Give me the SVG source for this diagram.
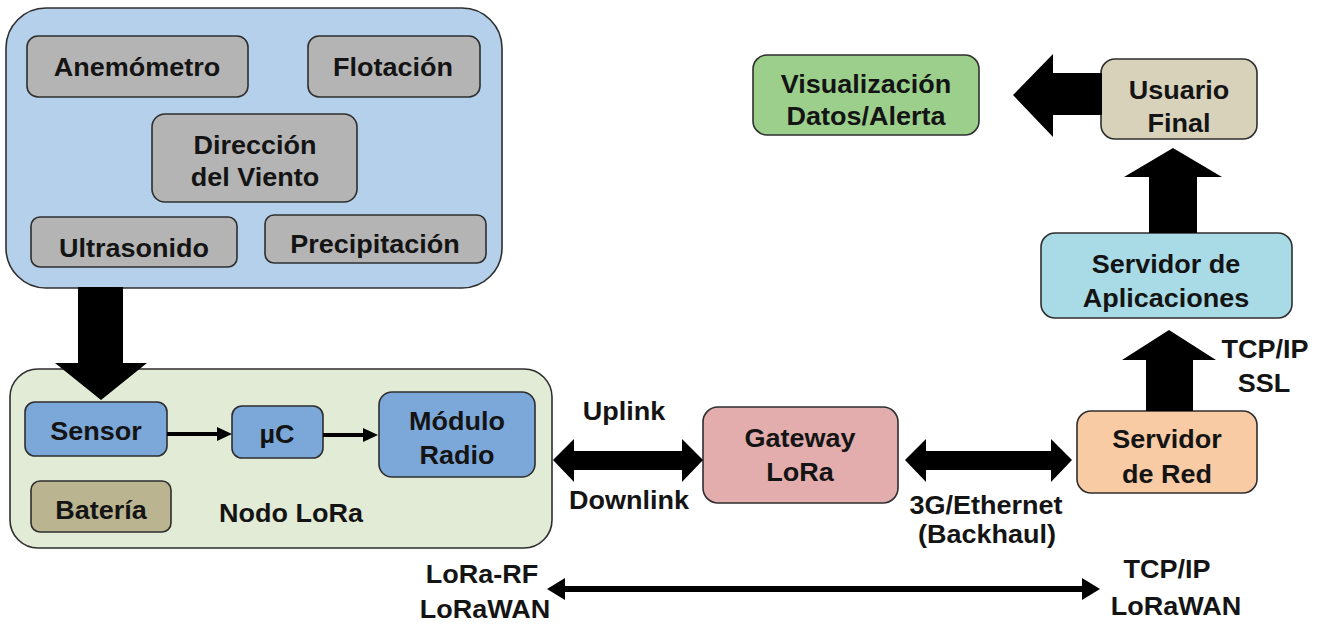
<svg xmlns="http://www.w3.org/2000/svg" width="1323" height="632" viewBox="0 0 1323 632">
<style>
.box{stroke:#2e2e2e;stroke-width:1.6}
.t{font-family:"Liberation Sans",Arial,Helvetica,sans-serif;font-weight:bold;font-size:25px;fill:#141414;text-anchor:middle}
.arr{fill:#000}
</style>
<rect width="1323" height="632" fill="#ffffff"/>
<g id="sensores">
<rect class="box" x="6" y="8" width="496" height="280" rx="40" fill="#b5d0ea"/>
</g>
<g id="anemometro">
<rect class="box" x="27" y="36" width="221" height="61" rx="11" fill="#b4b4b4"/>
<text class="t" transform="translate(137 0) scale(1.08 1)" y="76">Anemómetro</text>
</g>
<g id="flotacion">
<rect class="box" x="308" y="36" width="172" height="61" rx="11" fill="#b4b4b4"/>
<text class="t" transform="translate(393 0) scale(1.08 1)" y="76">Flotación</text>
</g>
<g id="direccion">
<rect class="box" x="152" y="114" width="205" height="88" rx="13" fill="#b4b4b4"/>
<text class="t" transform="translate(255 0) scale(1.08 1)" y="154">Dirección</text>
<text class="t" transform="translate(255 0) scale(1.08 1)" y="186">del Viento</text>
</g>
<g id="ultrasonido">
<rect class="box" x="31" y="217" width="206" height="50" rx="9" fill="#b4b4b4"/>
<text class="t" transform="translate(134 0) scale(1.08 1)" y="257">Ultrasonido</text>
</g>
<g id="precipitacion">
<rect class="box" x="265" y="215" width="221" height="48" rx="9" fill="#b4b4b4"/>
<text class="t" transform="translate(375 0) scale(1.08 1)" y="253">Precipitación</text>
</g>
<g id="nodo-lora">
<rect class="box" x="10" y="369" width="542" height="179" rx="28" fill="#e2ebd6"/>
<text class="t" transform="translate(291 0) scale(1.08 1)" y="522">Nodo LoRa</text>
</g>
<g id="sensor">
<rect class="box" x="25" y="402" width="142" height="54" rx="10" fill="#7ba8d9"/>
<text class="t" transform="translate(96 0) scale(1.08 1)" y="440">Sensor</text>
</g>
<g id="uc">
<rect class="box" x="232" y="406" width="91" height="52" rx="10" fill="#7ba8d9"/>
<text class="t" transform="translate(277 0) scale(1.08 1)" y="443">µC</text>
</g>
<g id="modulo-radio">
<rect class="box" x="379" y="392" width="156" height="85" rx="13" fill="#7ba8d9"/>
<text class="t" transform="translate(457 0) scale(1.08 1)" y="430">Módulo</text>
<text class="t" transform="translate(457 0) scale(1.08 1)" y="464">Radio</text>
</g>
<g id="bateria">
<rect class="box" x="31" y="481" width="140" height="51" rx="9" fill="#bab590"/>
<text class="t" transform="translate(101 0) scale(1.08 1)" y="519">Batería</text>
</g>
<g id="gateway">
<rect class="box" x="703" y="407" width="195" height="96" rx="15" fill="#e3adad"/>
<text class="t" transform="translate(800 0) scale(1.08 1)" y="447">Gateway</text>
<text class="t" transform="translate(800 0) scale(1.08 1)" y="481">LoRa</text>
</g>
<g id="servidor-red">
<rect class="box" x="1077" y="411" width="180" height="82" rx="14" fill="#f9cba5"/>
<text class="t" transform="translate(1167 0) scale(1.08 1)" y="448">Servidor</text>
<text class="t" transform="translate(1167 0) scale(1.08 1)" y="483">de Red</text>
</g>
<g id="servidor-aplicaciones">
<rect class="box" x="1041" y="233" width="251" height="85" rx="14" fill="#a9dbe6"/>
<text class="t" transform="translate(1166 0) scale(1.08 1)" y="273">Servidor de</text>
<text class="t" transform="translate(1166 0) scale(1.08 1)" y="307">Aplicaciones</text>
</g>
<g id="usuario-final">
<rect class="box" x="1101" y="59" width="156" height="80" rx="14" fill="#d8d2bb"/>
<text class="t" transform="translate(1179 0) scale(1.08 1)" y="99">Usuario</text>
<text class="t" transform="translate(1179 0) scale(1.08 1)" y="132">Final</text>
</g>
<g id="visualizacion">
<rect class="box" x="753" y="55" width="226" height="80" rx="14" fill="#9ccf8c"/>
<text class="t" transform="translate(866 0) scale(1.08 1)" y="93">Visualización</text>
<text class="t" transform="translate(866 0) scale(1.08 1)" y="125">Datos/Alerta</text>
</g>
<g id="connectors">
<polygon class="arr" points="78,287 123,287 123,363 147,363 101,400 55,363 78,363"/>
<rect class="arr" x="167" y="432" width="52" height="4"/>
<polygon class="arr" points="217,427 232,434 217,441"/>
<rect class="arr" x="323" y="433" width="42" height="4"/>
<polygon class="arr" points="363,428 378,435 363,442"/>
<polygon class="arr" points="553,460 574,439 574,451 682,451 682,439 703,460 682,482 682,470 574,470 574,482"/>
<polygon class="arr" points="905,460 926,439 926,451 1051,451 1051,439 1072,460 1051,482 1051,470 926,470 926,482"/>
<polygon class="arr" points="1146,411 1146,360 1122,360 1169,330 1216,360 1193,360 1193,411"/>
<polygon class="arr" points="1149,233 1149,177 1124,177 1173,148 1222,177 1197,177 1197,233"/>
<polygon class="arr" points="1102,73 1053,73 1053,54 1013,95 1053,137 1053,115 1102,115"/>
<rect class="arr" x="562" y="586" width="524" height="6"/>
<polygon class="arr" points="547,589 565,578 565,600"/>
<polygon class="arr" points="1100,589 1082,578 1082,600"/>
</g>
<g id="labels">
<text class="t" transform="translate(624 0) scale(1.08 1)" y="420">Uplink</text>
<text class="t" transform="translate(629 0) scale(1.08 1)" y="509">Downlink</text>
<text class="t" transform="translate(986 0) scale(1.08 1)" y="514">3G/Ethernet</text>
<text class="t" transform="translate(987 0) scale(1.08 1)" y="543">(Backhaul)</text>
<text class="t" transform="translate(1265 0) scale(1.08 1)" y="358">TCP/IP</text>
<text class="t" transform="translate(1264 0) scale(1.08 1)" y="392">SSL</text>
<text class="t" transform="translate(482 0) scale(1.08 1)" y="583">LoRa-RF</text>
<text class="t" transform="translate(485 0) scale(1.08 1)" y="618">LoRaWAN</text>
<text class="t" transform="translate(1167 0) scale(1.08 1)" y="578">TCP/IP</text>
<text class="t" transform="translate(1176 0) scale(1.08 1)" y="615">LoRaWAN</text>
</g>
</svg>
